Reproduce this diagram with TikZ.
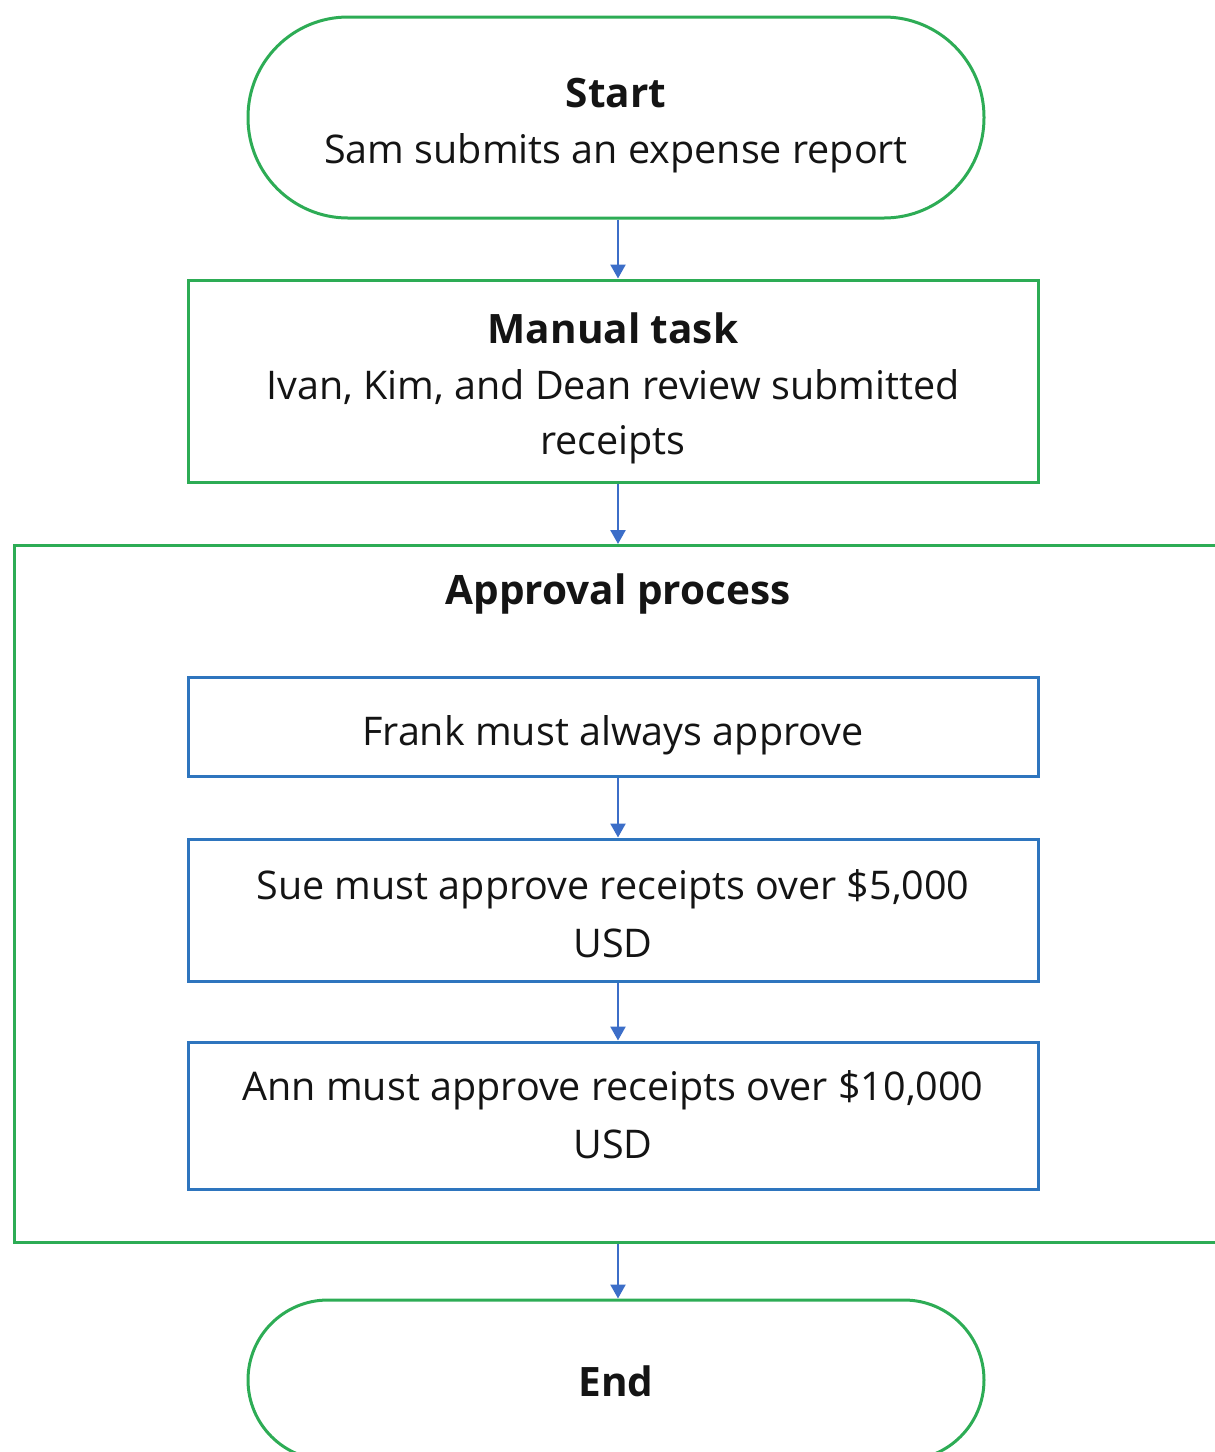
\documentclass[tikz,border=0pt]{standalone}
\usepackage{fontspec}
\setmainfont{Open Sans}
\usetikzlibrary{arrows.meta}
\definecolor{gline}{RGB}{45,172,85}
\definecolor{bline}{RGB}{46,117,190}
\definecolor{aline}{RGB}{60,110,200}
\definecolor{txt}{RGB}{20,20,20}
\begin{document}
\begin{tikzpicture}[x=1pt,y=1pt,
  every node/.style={inner sep=0pt},
  lbl/.style={font=\fontsize{39.5}{57}\selectfont, text=txt, anchor=base},
  ttl/.style={font=\fontsize{40.5}{57}\selectfont\bfseries, text=txt, anchor=base},
  term/.style={draw=gline, line width=3pt, rounded corners=#1, minimum width=736pt},
  gbox/.style={draw=gline, line width=3pt, minimum width=850pt},
  bbox/.style={draw=bline, line width=3pt, minimum width=850pt},
  arr/.style={draw=aline, line width=2.5pt, -{Triangle[width=15pt,length=14pt]}}
]
\useasboundingbox (0,0) rectangle (1215,-1452);
\clip (0,0) rectangle (1215,-1452);
\coordinate (ax) at (618,0);
% Start
\node[term=100pt, minimum height=201pt] (start) at (616,-117.5) {};
\node[ttl] (startT) at (616,-107) {Start};
\node[lbl] (startL) at (616,-163) {Sam submits an expense report};
% Manual task
\node[gbox, minimum height=202pt] (manual) at (613,-381) {};
\node[ttl] (manT) at (613,-343) {Manual task};
\node[lbl] (manL1) at (613,-399) {Ivan, Kim, and Dean review submitted};
\node[lbl] (manL2) at (613,-454) {receipts};
% Approval container
\node[draw=gline, line width=3pt, minimum width=1227pt, minimum height=697pt, anchor=north west] (appr) at (13,-544) {};
\node[ttl] (apprT) at (618,-604) {Approval process};
\node[bbox, minimum height=99pt] (frank) at (613,-726.5) {};
\node[lbl] (frankT) at (613,-745) {Frank must always approve};
\node[bbox, minimum height=142pt] (sue) at (613,-910) {};
\node[lbl] (sueL1) at (613,-899) {Sue must approve receipts over \$5,000};
\node[lbl] (sueL2) at (613,-957) {USD};
\node[bbox, minimum height=147pt] (ann) at (613,-1115.5) {};
\node[lbl] (annL1) at (613,-1100) {Ann must approve receipts over \$10,000};
\node[lbl] (annL2) at (613,-1158) {USD};
% End
\node[term=80pt, minimum height=160pt] (end) at (616,-1380) {};
\node[ttl] (endT) at (616,-1396) {End};
% connectors
\draw[arr] (start.south -| ax) -- (manual.north -| ax);
\draw[arr] (manual.south -| ax) -- (appr.north -| ax);
\draw[arr] (frank.south -| ax) -- (sue.north -| ax);
\draw[arr] (sue.south -| ax) -- (ann.north -| ax);
\draw[arr] (appr.south -| ax) -- (end.north -| ax);
\end{tikzpicture}
\end{document}
